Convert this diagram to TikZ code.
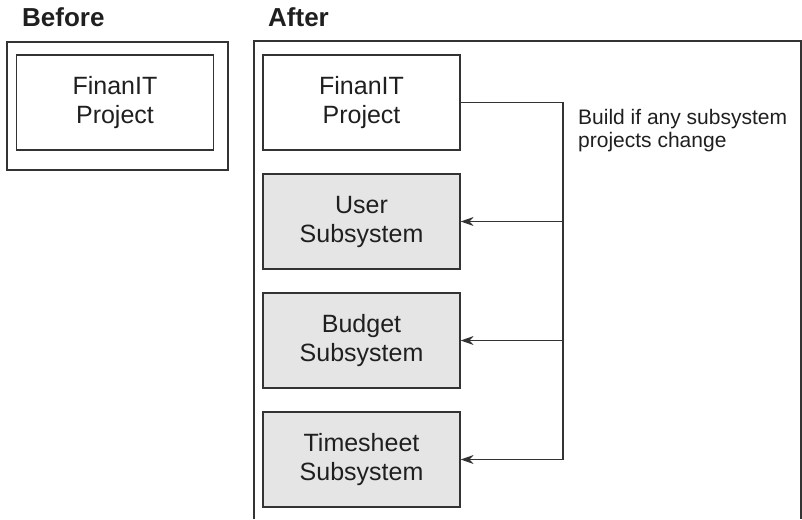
\documentclass[tikz,border=0pt]{standalone}
\usepackage{fontspec}
\setmainfont{Liberation Sans}
\usetikzlibrary{arrows.meta, positioning}
\definecolor{boxgray}{gray}{0.9}
\definecolor{linegray}{gray}{0.2}
\definecolor{textgray}{gray}{0.12}

\begin{document}
\begin{tikzpicture}[x=1pt, y=-1pt, node distance=119pt,
    box/.style={draw=linegray, line width=1.3pt, text=textgray, minimum width=197pt,
      minimum height=95pt, inner sep=0pt, align=center, font=\fontsize{25}{29}\selectfont},
    subbox/.style={box, fill=boxgray},
    heading/.style={anchor=base west, inner sep=0pt, text=textgray,
      font=\fontsize{26}{30}\selectfont\bfseries},
    frame/.style={draw=linegray, line width=1.3pt},
    conn/.style={draw=linegray, line width=1.2pt},
    arr/.style={conn, -{Stealth[length=13pt, width=9pt]}}]
    \useasboundingbox (0,0) rectangle (802,519);

    % Headings
    \node (before) [heading] at (22,27) {Before};
    \node (after) [heading] at (268,27) {After};

    % Before: one project
    \draw[frame] (7,42) rectangle (228,170);
    \node (oldproj) [box] at (115,102.5) {FinanIT\\Project};

    % After: project plus subsystems
    \draw[frame] (254,519) -- (254,41) -- (801,41) -- (801,519);
    \node (newproj) [box] at (361.5,102.5) {FinanIT\\Project};
    \node (user) [subbox, below of=newproj] {User\\Subsystem};
    \node (budget) [subbox, below of=user] {Budget\\Subsystem};
    \node (timesheet) [subbox, below of=budget] {Timesheet\\Subsystem};

    % Build trigger
    \coordinate (bus) at (563,102.5);
    \draw[arr] (newproj.east) -- (bus) |- (timesheet.east);
    \draw[arr] (user.east -| bus) -- (user.east);
    \draw[arr] (budget.east -| bus) -- (budget.east);
    \node (note) [anchor=base west, inner sep=0pt, align=left, text=textgray,
      font=\fontsize{21}{23}\selectfont] at (578,147) {Build if any subsystem\\projects change};
\end{tikzpicture}
\end{document}
